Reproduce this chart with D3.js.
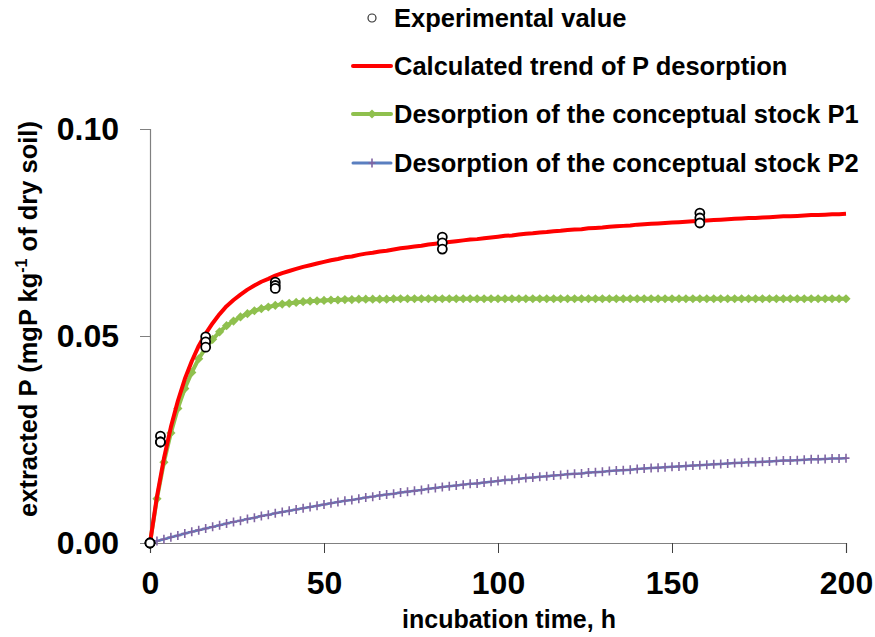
<!DOCTYPE html>
<html>
<head>
<meta charset="utf-8">
<script src="https://cdn.jsdelivr.net/npm/d3@7"></script>
<style>
  html, body { margin: 0; padding: 0; background: #fff; }
  svg { display: block; font-family: "Liberation Sans", Arial, sans-serif; }
</style>
</head>
<body>
<svg id="chart" width="875" height="637"></svg>
<script>
// ---- data ----
const time = [
  0, 2, 4, 6, 8, 10, 12, 14, 16, 18, 20,
  22, 24, 26, 28, 30, 32, 34, 36, 38, 40,
  42, 44, 46, 48, 50, 52, 54, 56, 58, 60,
  62, 64, 66, 68, 70, 72, 74, 76, 78, 80,
  82, 84, 86, 88, 90, 92, 94, 96, 98, 100,
  102, 104, 106, 108, 110, 112, 114, 116, 118, 120,
  122, 124, 126, 128, 130, 132, 134, 136, 138, 140,
  142, 144, 146, 148, 150, 152, 154, 156, 158, 160,
  162, 164, 166, 168, 170, 172, 174, 176, 178, 180,
  182, 184, 186, 188, 190, 192, 194, 196, 198, 200
];
const calculatedTrend = [
  0, 0.0112, 0.0204, 0.0280, 0.0343, 0.0396, 0.0439, 0.0476, 0.0506, 0.0531, 0.0553,
  0.0572, 0.0587, 0.0600, 0.0612, 0.0622, 0.0631, 0.0638, 0.0646, 0.0652, 0.0657,
  0.0662, 0.0667, 0.0671, 0.0675, 0.0679, 0.0683, 0.0686, 0.0690, 0.0692, 0.0696,
  0.0699, 0.0701, 0.0704, 0.0706, 0.0709, 0.0712, 0.0714, 0.0716, 0.0718, 0.0721,
  0.0723, 0.0725, 0.0727, 0.0729, 0.0731, 0.0733, 0.0734, 0.0736, 0.0738, 0.0740,
  0.0742, 0.0743, 0.0745, 0.0747, 0.0748, 0.0750, 0.0751, 0.0753, 0.0754, 0.0756,
  0.0757, 0.0758, 0.0760, 0.0761, 0.0762, 0.0764, 0.0765, 0.0766, 0.0767, 0.0769,
  0.0770, 0.0771, 0.0772, 0.0773, 0.0774, 0.0775, 0.0776, 0.0777, 0.0778, 0.0779,
  0.0780, 0.0781, 0.0782, 0.0783, 0.0784, 0.0785, 0.0785, 0.0786, 0.0787, 0.0788,
  0.0789, 0.0789, 0.0790, 0.0791, 0.0792, 0.0792, 0.0793, 0.0794, 0.0794, 0.0795
];
const stockP1 = [
  0, 0.0107, 0.0195, 0.0266, 0.0325, 0.0373, 0.0412, 0.0445, 0.0471, 0.0492, 0.0510,
  0.0525, 0.0536, 0.0546, 0.0554, 0.0561, 0.0566, 0.0570, 0.0574, 0.0577, 0.0579,
  0.0581, 0.0583, 0.0584, 0.0585, 0.0586, 0.0587, 0.0587, 0.0588, 0.0588, 0.0589,
  0.0589, 0.0589, 0.0589, 0.0589, 0.0590, 0.0590, 0.0590, 0.0590, 0.0590, 0.0590,
  0.0590, 0.0590, 0.0590, 0.0590, 0.0590, 0.0590, 0.0590, 0.0590, 0.0590, 0.0590,
  0.0590, 0.0590, 0.0590, 0.0590, 0.0590, 0.0590, 0.0590, 0.0590, 0.0590, 0.0590,
  0.0590, 0.0590, 0.0590, 0.0590, 0.0590, 0.0590, 0.0590, 0.0590, 0.0590, 0.0590,
  0.0590, 0.0590, 0.0590, 0.0590, 0.0590, 0.0590, 0.0590, 0.0590, 0.0590, 0.0590,
  0.0590, 0.0590, 0.0590, 0.0590, 0.0590, 0.0590, 0.0590, 0.0590, 0.0590, 0.0590,
  0.0590, 0.0590, 0.0590, 0.0590, 0.0590, 0.0590, 0.0590, 0.0590, 0.0590, 0.0590
];
const stockP2 = [
  0, 0.0005, 0.0009, 0.0014, 0.0018, 0.0023, 0.0027, 0.0031, 0.0035, 0.0039, 0.0043,
  0.0047, 0.0051, 0.0054, 0.0058, 0.0061, 0.0065, 0.0068, 0.0072, 0.0075, 0.0078,
  0.0081, 0.0084, 0.0087, 0.0090, 0.0093, 0.0096, 0.0099, 0.0102, 0.0104, 0.0107,
  0.0110, 0.0112, 0.0115, 0.0117, 0.0119, 0.0122, 0.0124, 0.0126, 0.0128, 0.0131,
  0.0133, 0.0135, 0.0137, 0.0139, 0.0141, 0.0143, 0.0144, 0.0146, 0.0148, 0.0150,
  0.0152, 0.0153, 0.0155, 0.0157, 0.0158, 0.0160, 0.0161, 0.0163, 0.0164, 0.0166,
  0.0167, 0.0168, 0.0170, 0.0171, 0.0172, 0.0174, 0.0175, 0.0176, 0.0177, 0.0179,
  0.0180, 0.0181, 0.0182, 0.0183, 0.0184, 0.0185, 0.0186, 0.0187, 0.0188, 0.0189,
  0.0190, 0.0191, 0.0192, 0.0193, 0.0194, 0.0195, 0.0195, 0.0196, 0.0197, 0.0198,
  0.0199, 0.0199, 0.0200, 0.0201, 0.0202, 0.0202, 0.0203, 0.0204, 0.0204, 0.0205
];
const expTime  = [0, 0, 0, 3, 3, 3, 16, 16, 16, 36, 36, 36, 84, 84, 84, 158, 158, 158];
const expValue = [0, 0, 0, 0.0258, 0.0244, 0.0244, 0.0498, 0.0486, 0.0473,
                  0.0630, 0.0622, 0.0615, 0.0739, 0.0725, 0.0710, 0.0797, 0.0785, 0.0773];
const xTicks = [0, 50, 100, 150, 200];
const yTicks = [0, 0.05, 0.10];
const legendLabels = [
  "Experimental value",
  "Calculated trend of P desorption",
  "Desorption of the conceptual stock P1",
  "Desorption of the conceptual stock P2"
];

// ---- chart ----
const svg = d3.select("#chart");
const x = d3.scaleLinear().domain([0, 200]).range([150, 846]);
const y = d3.scaleLinear().domain([0, 0.10]).range([543, 129]);
const axisColor = "#808080";

// axes
const gx = svg.append("g").attr("transform", "translate(0,543)")
  .call(d3.axisBottom(x).tickValues(xTicks).tickSize(10).tickFormat(d3.format("d")));
gx.select(".domain").attr("stroke", axisColor).attr("stroke-width", 1.2);
gx.selectAll(".tick line").attr("stroke", "#404040").attr("stroke-width", 1);
gx.selectAll(".tick text")
  .attr("dy", null).attr("y", 51)
  .attr("font-size", 32).attr("font-weight", "bold").attr("fill", "#000")
  .attr("font-family", "'Liberation Sans', Arial, sans-serif");

const gy = svg.append("g").attr("transform", "translate(150,0)")
  .call(d3.axisLeft(y).tickValues(yTicks).tickSize(10).tickPadding(21).tickFormat(d3.format(".2f")));
gy.select(".domain").attr("stroke", axisColor).attr("stroke-width", 1.2);
gy.selectAll(".tick line").attr("stroke", axisColor).attr("stroke-width", 1);
gy.selectAll(".tick text")
  .attr("font-size", 32).attr("font-weight", "bold").attr("fill", "#000")
  .attr("font-family", "'Liberation Sans', Arial, sans-serif");

// axis titles
svg.append("text")
  .attr("x", 509).attr("y", 628)
  .attr("text-anchor", "middle")
  .attr("font-size", 25).attr("font-weight", "bold")
  .text("incubation time, h");

const yt = svg.append("text")
  .attr("transform", "translate(37,319) rotate(-90)")
  .attr("text-anchor", "middle")
  .attr("font-size", 25.5).attr("font-weight", "bold");
yt.append("tspan").text("extracted P (mgP kg");
yt.append("tspan").attr("font-size", 16).attr("dy", -10).text("-1");
yt.append("tspan").attr("dy", 10).text(" of dry soil)");

// series
const line = (vals) => d3.line()
  .x((d, i) => x(time[i]))
  .y((d) => y(d))(vals);

const purpleLine = "#5a7fc0", purpleMark = "#8064a2";
const green = "#8fc04e";

svg.append("path").attr("d", line(stockP2))
  .attr("fill", "none").attr("stroke", purpleLine).attr("stroke-width", 2.5);
svg.append("g").selectAll("path").data(stockP2).join("path")
  .attr("d", (d, i) => {
    const cx = x(time[i]), cy = y(d);
    return `M${cx - 3.5},${cy}H${cx + 3.5}M${cx},${cy - 4.5}V${cy + 4.5}`;
  })
  .attr("stroke", purpleMark).attr("stroke-width", 1.6);

svg.append("path").attr("d", line(stockP1))
  .attr("fill", "none").attr("stroke", green).attr("stroke-width", 4);
svg.append("g").selectAll("path").data(stockP1).join("path")
  .attr("d", (d, i) => {
    const cx = x(time[i]), cy = y(d);
    return `M${cx},${cy - 4.6}L${cx + 4.6},${cy}L${cx},${cy + 4.6}L${cx - 4.6},${cy}Z`;
  })
  .attr("fill", green);

svg.append("path").attr("d", line(calculatedTrend))
  .attr("fill", "none").attr("stroke", "#ff0000").attr("stroke-width", 4)
  .attr("stroke-linejoin", "round");

svg.append("g").selectAll("circle").data(expValue).join("circle")
  .attr("cx", (d, i) => x(expTime[i]))
  .attr("cy", (d) => y(d))
  .attr("r", 4.5)
  .attr("fill", "#fff").attr("stroke", "#000").attr("stroke-width", 1.8);

// legend
const lg = svg.append("g");
const legendY = [18, 66, 114, 163];
lg.append("circle").attr("cx", 372).attr("cy", legendY[0]).attr("r", 4)
  .attr("fill", "#fff").attr("stroke", "#333").attr("stroke-width", 1.2);
lg.append("line").attr("x1", 353).attr("x2", 391).attr("y1", legendY[1]).attr("y2", legendY[1])
  .attr("stroke", "#ff0000").attr("stroke-width", 4).attr("stroke-linecap", "round");
lg.append("line").attr("x1", 353).attr("x2", 391).attr("y1", legendY[2]).attr("y2", legendY[2])
  .attr("stroke", green).attr("stroke-width", 4).attr("stroke-linecap", "round");
lg.append("path").attr("d", `M372,${legendY[2] - 4.6}L376.6,${legendY[2]}L372,${legendY[2] + 4.6}L367.4,${legendY[2]}Z`)
  .attr("fill", green);
lg.append("line").attr("x1", 353).attr("x2", 391).attr("y1", legendY[3]).attr("y2", legendY[3])
  .attr("stroke", purpleLine).attr("stroke-width", 3).attr("stroke-linecap", "round");
lg.append("path").attr("d", `M368.5,${legendY[3]}H375.5M372,${legendY[3] - 4.5}V${legendY[3] + 4.5}`)
  .attr("stroke", purpleMark).attr("stroke-width", 1.6);
lg.selectAll("text.leg").data(legendLabels).join("text")
  .attr("class", "leg")
  .attr("x", 394).attr("y", (d, i) => legendY[i] + 8.7)
  .attr("font-size", 25.5).attr("font-weight", "bold").attr("fill", "#000")
  .text((d) => d);
</script>
</body>
</html>
